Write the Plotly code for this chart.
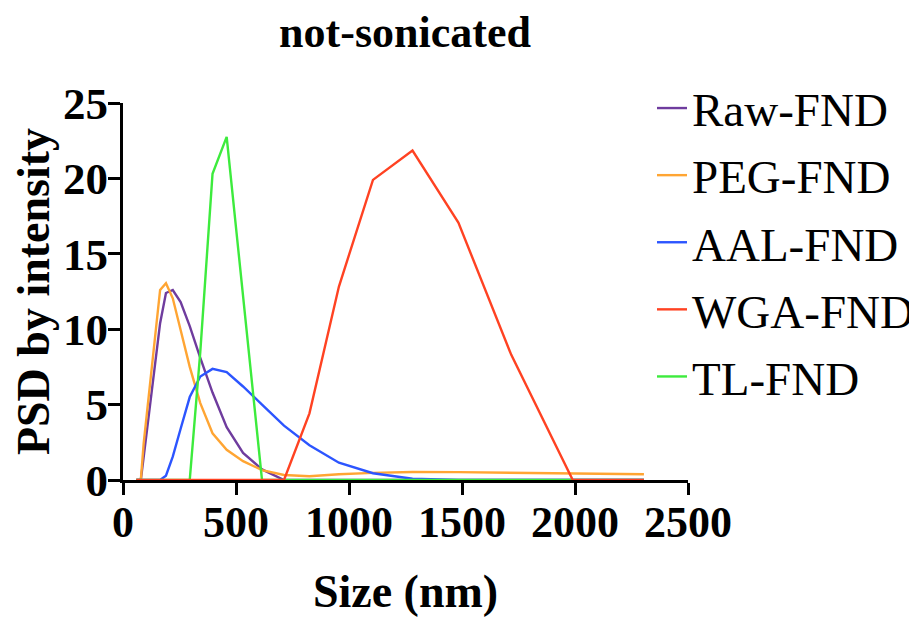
import plotly.graph_objects as go

sizes = [58.77, 68.06, 78.82, 91.28, 105.7, 122.4, 141.8, 164.2, 190.1, 220.2, 255.0, 295.3,
         342.0, 396.1, 458.7, 531.2, 615.1, 712.4, 825.0, 955.4, 1106, 1281, 1484, 1718, 1990, 2305]

raw_fnd = [0, 0, 0, 1.5, 3.3, 5.4, 7.8, 10.4, 12.4, 12.6, 11.8, 10.2,
           8.1, 5.8, 3.5, 1.8, 0.7, 0, 0, 0, 0, 0, 0, 0, 0, 0]
peg_fnd = [0, 0, 0, 2.4, 4.4, 6.9, 9.5, 12.6, 13.05, 12.05, 9.95, 7.5,
           5.1, 3.1, 2.0, 1.25, 0.66, 0.33, 0.25, 0.38, 0.47, 0.53, 0.52, 0.48, 0.42, 0.38]
aal_fnd = [0, 0, 0, 0, 0, 0, 0, 0, 0.29, 1.55, 3.4, 5.5,
           6.86, 7.37, 7.15, 6.2, 5.0, 3.6, 2.3, 1.15, 0.45, 0.08, 0, 0, 0, 0]
wga_fnd = [0, 0, 0, 0, 0, 0, 0, 0, 0, 0, 0, 0,
           0, 0, 0, 0, 0, 0, 4.42, 12.83, 19.9, 21.85, 17.07, 8.3, 0, 0]
tl_fnd = [0, 0, 0, 0, 0, 0, 0, 0, 0, 0, 0, 0,
          8.5, 20.3, 22.75, 12.2, 0, 0, 0, 0, 0, 0, 0, 0, 0, 0]

x_ticks = [0, 500, 1000, 1500, 2000, 2500]
y_ticks = [0, 5, 10, 15, 20, 25]

FONT = "Liberation Serif"

# drawing order (TL before WGA so red lies on the baseline), legend order via legendrank
series = [
    ("Raw-FND", raw_fnd, "#6F3C9E", 1),
    ("PEG-FND", peg_fnd, "#FFA533", 2),
    ("AAL-FND", aal_fnd, "#2C55FF", 3),
    ("TL-FND", tl_fnd, "#3DEB3D", 5),
    ("WGA-FND", wga_fnd, "#FF4222", 4),
]

fig = go.Figure()
for name, vals, color, rank in series:
    fig.add_trace(go.Scatter(
        x=sizes, y=vals, mode="lines", name=name,
        line=dict(color=color, width=2.4),
        legendrank=rank, legendgroup=name,
    ))

L, T, PW, PH = 115, 95, 565, 377
fig.update_layout(
    width=917, height=623,
    margin=dict(l=L, r=917 - L - PW, t=T, b=623 - T - PH, autoexpand=False),
    paper_bgcolor="white", plot_bgcolor="white",
    font=dict(family=FONT, color="black"),
    title=dict(text="not-sonicated", x=397 / 917, xanchor="center",
               y=1 - 24 / 623, yanchor="middle",
               font=dict(family=FONT, size=44, weight="bold", color="black")),
    legend=dict(x=(644 - L) / PW, xanchor="left", y=1 + (T - 63) / PH, yanchor="top",
                font=dict(family=FONT, size=47, color="black"),
                tracegroupgap=3, bgcolor="rgba(0,0,0,0)",
                itemwidth=30, maxheight=600),
    showlegend=True,
)

fig.update_xaxes(
    range=[0, 2500], tickvals=x_ticks, ticktext=[str(v) for v in x_ticks],
    showline=True, linewidth=3, linecolor="black", mirror=False,
    ticks="outside", ticklen=12, tickwidth=3, tickcolor="black",
    showgrid=False, zeroline=False, ticklabelstandoff=-11,
    tickfont=dict(family=FONT, size=44, weight="bold", color="black"),
    title=dict(text="Size (nm)", standoff=30,
               font=dict(family=FONT, size=46, weight="bold", color="black")),
)
fig.update_yaxes(
    range=[0, 25], tickvals=y_ticks, ticktext=[str(v) for v in y_ticks],
    showline=True, linewidth=3, linecolor="black", mirror=False,
    ticks="outside", ticklen=12, tickwidth=3, tickcolor="black",
    showgrid=False, zeroline=False, ticklabelstandoff=-9,
    tickfont=dict(family=FONT, size=45, weight="bold", color="black"),
    title=dict(text="PSD by intensity", standoff=0,
               font=dict(family=FONT, size=46, weight="bold", color="black")),
)

fig.write_html("out.html")
